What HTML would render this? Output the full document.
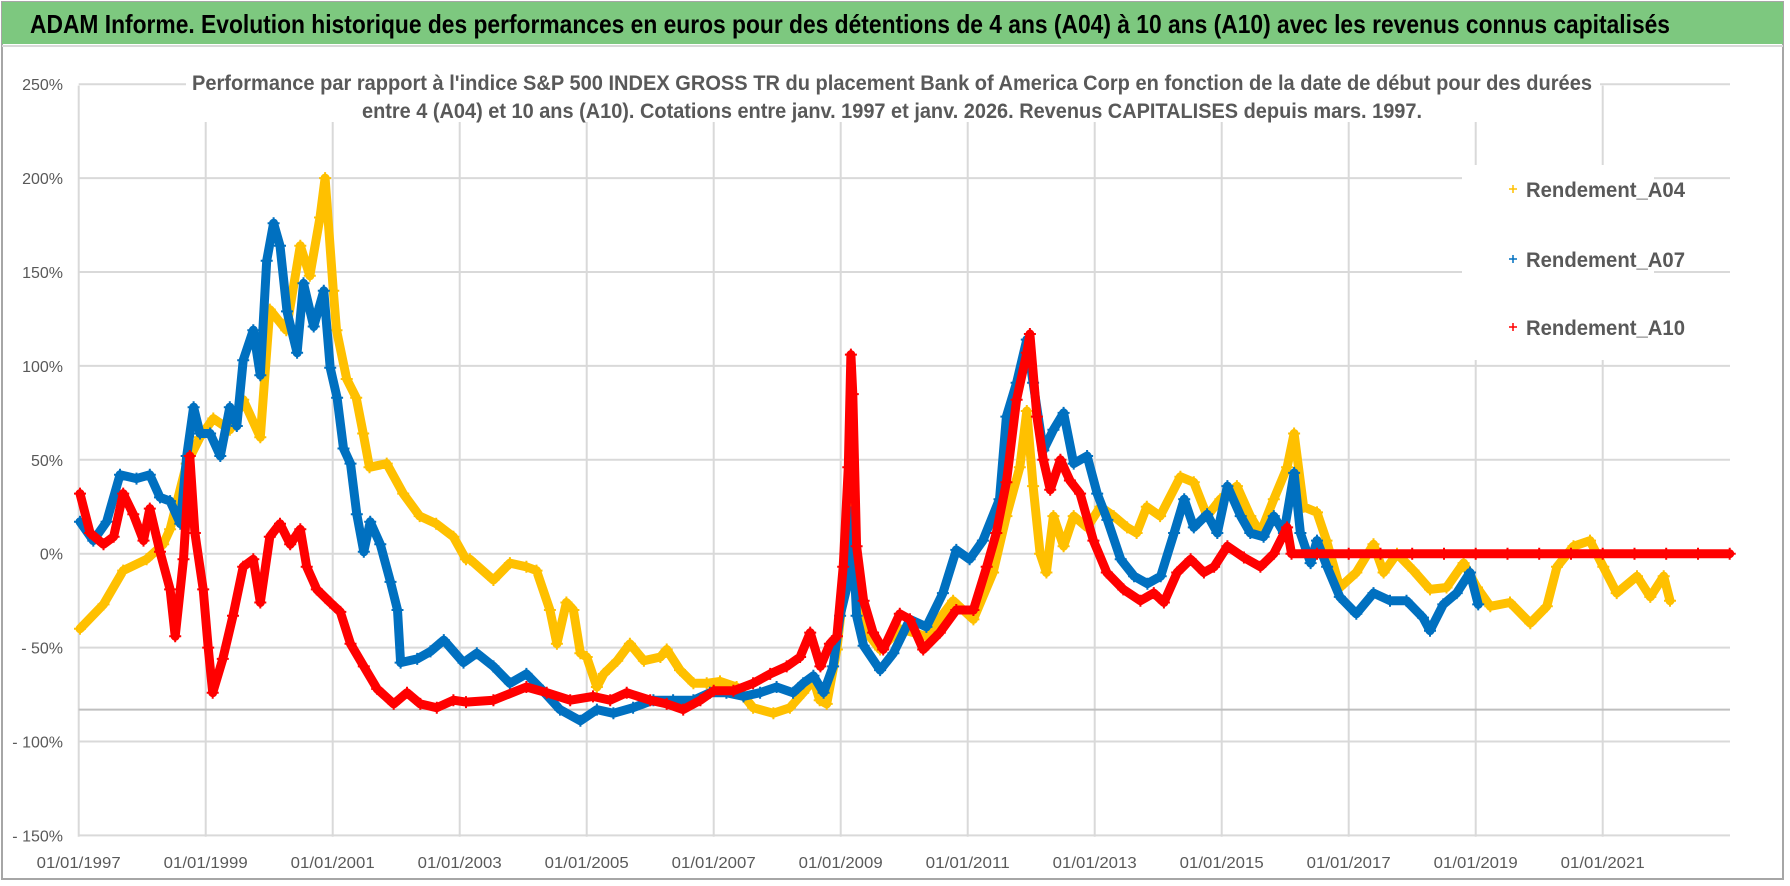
<!DOCTYPE html>
<html><head><meta charset="utf-8"><style>
html,body{margin:0;padding:0;background:#fff;}
svg{display:block;font-family:"Liberation Sans",sans-serif;}
</style></head><body>
<svg id="chart" width="1790" height="886" viewBox="0 0 1790 886" xmlns="http://www.w3.org/2000/svg">
<rect x="0" y="0" width="1790" height="886" fill="#fff"/>
<rect x="2" y="2" width="1781" height="877" fill="none" stroke="#a6a6a6" stroke-width="2"/>
<rect x="2" y="2" width="1781" height="42" fill="#7dc87f"/>
<line x1="2" y1="46" x2="1783" y2="46" stroke="#d9d9d9" stroke-width="2"/>
<text x="30" y="33" font-size="26" font-weight="bold" fill="#000" textLength="1640" lengthAdjust="spacingAndGlyphs">ADAM Informe. Evolution historique des performances en euros pour des détentions de 4 ans (A04) à 10 ans (A10) avec les revenus connus capitalisés</text>
<g id="grid"></g>
<g id="series"></g>
<rect x="186" y="64" width="1414" height="58" fill="#fff"/>
<text x="192" y="90" font-size="21" font-weight="bold" fill="#595959" textLength="1400" lengthAdjust="spacingAndGlyphs">Performance par rapport à l'indice S&amp;P 500 INDEX GROSS TR  du placement Bank of America Corp en fonction de la date de début pour des durées</text>
<text x="362" y="118" font-size="21" font-weight="bold" fill="#595959" textLength="1060" lengthAdjust="spacingAndGlyphs">entre 4 (A04) et 10 ans (A10). Cotations entre janv. 1997 et janv. 2026. Revenus CAPITALISES depuis mars. 1997.</text>
<g>
<rect x="1462" y="165" width="192" height="195" fill="#fff"/>
<g><path d="M1509 189h8M1513 185v8" stroke="#ffc000" stroke-width="1.5"/><text x="1526" y="197" font-size="21" font-weight="bold" fill="#595959" textLength="159" lengthAdjust="spacingAndGlyphs">Rendement_A04</text></g>
<g><path d="M1509 259h8M1513 255v8" stroke="#0070c0" stroke-width="1.5"/><text x="1526" y="267" font-size="21" font-weight="bold" fill="#595959" textLength="159" lengthAdjust="spacingAndGlyphs">Rendement_A07</text></g>
<g><path d="M1509 327h8M1513 323v8" stroke="#ff0000" stroke-width="1.5"/><text x="1526" y="335" font-size="21" font-weight="bold" fill="#595959" textLength="159" lengthAdjust="spacingAndGlyphs">Rendement_A10</text></g>
</g>
<g id="axes"></g>
</svg>
<script>
const yTicks = [250,200,150,100,50,0,-50,-100,-150];
const yTickLabels = ["250%","200%","150%","100%","50%","0%","- 50%","- 100%","- 150%"];
const xTicks = [1997,1999,2001,2003,2005,2007,2009,2011,2013,2015,2017,2019,2021];
const xTickLabels = ["01/01/1997","01/01/1999","01/01/2001","01/01/2003","01/01/2005","01/01/2007","01/01/2009","01/01/2011","01/01/2013","01/01/2015","01/01/2017","01/01/2019","01/01/2021"];
const refLine = -83;

const a04Years = [1997.02,1997.39,1997.7,1998.07,1998.33,1998.44,1998.7,1998.91,1999.12,1999.38,1999.59,1999.86,2000.01,2000.27,2000.49,2000.64,2000.8,2000.88,2001.01,2001.06,2001.22,2001.37,2001.48,2001.58,2001.85,2002.11,2002.37,2002.63,2002.9,2003.1,2003.16,2003.53,2003.79,2004.05,2004.21,2004.42,2004.53,2004.68,2004.79,2004.9,2005.0,2005.16,2005.27,2005.48,2005.68,2005.9,2006.16,2006.26,2006.47,2006.68,2006.89,2007.1,2007.36,2007.62,2007.94,2008.2,2008.41,2008.57,2008.67,2008.78,2008.94,2009.04,2009.17,2009.25,2009.41,2009.62,2009.93,2010.35,2010.77,2011.09,2011.4,2011.61,2011.82,2011.93,2012.03,2012.14,2012.24,2012.35,2012.51,2012.67,2012.88,2013.09,2013.3,2013.51,2013.66,2013.82,2014.03,2014.35,2014.56,2014.77,2014.98,2015.24,2015.45,2015.61,2015.82,2016.03,2016.14,2016.29,2016.5,2016.65,2016.86,2017.12,2017.39,2017.55,2017.76,2018.02,2018.28,2018.54,2018.81,2019.02,2019.23,2019.54,2019.86,2020.12,2020.28,2020.54,2020.8,2021.01,2021.22,2021.54,2021.75,2021.96,2022.06];
const a04Values = [-40,-27,-9,-3,5,13,48,62,72,66,82,62,130,119,164,148,179,200,140,119,93,83,64,46,48,32,20,16,9,-3,-3,-14,-5,-7,-9,-30,-48,-26,-30,-53,-55,-71,-64,-57,-48,-57,-55,-51,-62,-69,-69,-68,-71,-82,-85,-82,-74,-67,-78,-80,-51,-21,46,-16,-42,-51,-40,-44,-25,-35,-10,20,46,76,36,0,-10,20,4,20,14,25,20,14,11,25,20,41,38,20,29,36,20,11,29,46,64,25,22,7,-18,-10,5,-10,0,-9,-19,-18,-5,-18,-28,-26,-37,-28,-7,4,7,-7,-21,-12,-23,-12,-25];

const a07Years = [1997.02,1997.23,1997.44,1997.65,1997.91,1998.12,1998.28,1998.44,1998.6,1998.7,1998.81,1998.91,1999.07,1999.23,1999.38,1999.49,1999.59,1999.75,1999.86,1999.96,2000.07,2000.17,2000.28,2000.44,2000.54,2000.7,2000.86,2000.96,2001.07,2001.17,2001.28,2001.38,2001.49,2001.59,2001.75,2001.91,2002.02,2002.07,2002.33,2002.54,2002.75,2003.06,2003.27,2003.53,2003.79,2004.05,2004.31,2004.58,2004.9,2005.16,2005.42,2005.73,2006.05,2006.36,2006.68,2006.94,2007.2,2007.47,2007.73,2007.99,2008.25,2008.41,2008.57,2008.73,2008.88,2008.99,2009.09,2009.17,2009.25,2009.36,2009.62,2009.83,2010.09,2010.35,2010.61,2010.82,2011.03,2011.24,2011.5,2011.61,2011.77,2011.93,2012.03,2012.19,2012.35,2012.51,2012.67,2012.88,2013.04,2013.2,2013.41,2013.62,2013.83,2014.04,2014.25,2014.41,2014.56,2014.77,2014.93,2015.09,2015.3,2015.45,2015.66,2015.82,2015.98,2016.14,2016.24,2016.4,2016.5,2016.66,2016.86,2017.12,2017.39,2017.65,2017.91,2018.17,2018.28,2018.49,2018.7,2018.91,2019.04];
const a07Values = [17,7,17,42,40,42,30,28,16,52,78,64,64,52,78,68,103,119,95,156,176,164,129,107,144,121,140,99,83,56,48,21,1,17,5,-15,-30,-58,-56,-52,-46,-58,-53,-60,-69,-64,-73,-83,-89,-83,-85,-82,-78,-78,-78,-74,-74,-76,-74,-71,-74,-69,-65,-74,-60,-33,-19,22,-33,-49,-62,-53,-35,-39,-21,2,-3,7,29,73,91,114,91,55,66,75,48,52,32,18,-3,-12,-16,-12,11,29,14,21,11,36,20,11,9,20,11,43,11,-5,7,-7,-23,-32,-21,-25,-25,-34,-41,-27,-21,-10,-27];

const a10Years = [1997.02,1997.18,1997.39,1997.55,1997.7,1997.86,1998.02,1998.12,1998.28,1998.44,1998.52,1998.65,1998.75,1998.83,1998.96,1999.04,1999.11,1999.27,1999.43,1999.59,1999.75,1999.86,2000.01,2000.17,2000.33,2000.49,2000.59,2000.75,2000.96,2001.12,2001.28,2001.49,2001.7,2001.96,2002.17,2002.38,2002.64,2002.9,2003.1,2003.53,2004.05,2004.37,2004.74,2005.1,2005.37,2005.63,2006.0,2006.26,2006.52,2006.79,2007.0,2007.31,2007.62,2007.89,2008.15,2008.36,2008.52,2008.68,2008.83,2008.94,2009.04,2009.12,2009.16,2009.19,2009.25,2009.36,2009.51,2009.67,2009.93,2010.09,2010.3,2010.56,2010.82,2011.09,2011.3,2011.45,2011.61,2011.77,2011.93,2011.98,2012.09,2012.19,2012.3,2012.46,2012.61,2012.77,2012.98,2013.19,2013.45,2013.72,2013.93,2014.09,2014.3,2014.51,2014.72,2014.88,2015.09,2015.35,2015.61,2015.82,2016.03,2016.1,2016.5,2017.0,2017.5,2018.0,2018.5,2019.0,2019.5,2020.0,2020.5,2021.0,2021.5,2022.0,2022.5,2023.0];
const a10Values = [32,11,5,9,32,21,7,24,1,-19,-44,-3,52,11,-19,-50,-74,-56,-33,-7,-3,-26,9,16,5,13,-7,-19,-26,-31,-48,-60,-72,-80,-74,-80,-82,-78,-79,-78,-71,-74,-78,-76,-78,-74,-78,-80,-83,-78,-73,-73,-69,-64,-60,-55,-42,-60,-48,-44,-7,46,106,85,4,-25,-42,-51,-32,-35,-51,-42,-30,-30,-7,11,38,82,107,117,73,50,34,50,39,32,7,-10,-19,-25,-21,-26,-10,-3,-10,-7,4,-2,-7,0,14,0,0,0,0,0,0,0,0,0,0,0,0,0,0,0];

const X0 = 78.7, PXY = 63.5, Y0 = 553.7, PXV = 1.878, XR = 1730, YT = 85.6, YB = 836.8;
function xs(yr){ return X0 + (yr - 1997) * PXY; }
function ys(v){ return Y0 - v * PXV; }
const NS = "http://www.w3.org/2000/svg";
function mk(tag, attrs, parent){ const e = document.createElementNS(NS, tag); for (const k in attrs) e.setAttribute(k, attrs[k]); parent.appendChild(e); return e; }

const grid = document.getElementById('grid');
yTicks.forEach(v => {
  const l = mk('line', {x1: X0, x2: XR, y1: ys(v), y2: ys(v), stroke: '#d9d9d9', 'stroke-width': 2}, grid);
  
  
});
xTicks.slice(1).forEach(t => {
  const l = mk('line', {x1: xs(t), x2: xs(t), y1: YT, y2: YB, stroke: '#d9d9d9', 'stroke-width': 2}, grid);
  
  
});
const axL = mk('line', {x1: X0, x2: X0, y1: YT, y2: YB, stroke: '#d9d9d9', 'stroke-width': 2}, grid);


const rl = mk('line', {x1: X0, x2: XR, y1: ys(refLine), y2: ys(refLine), stroke: '#bfbfbf', 'stroke-width': 2}, grid);



const axes = document.getElementById('axes');
yTicks.forEach((v, i) => {
  const t = mk('text', {x: 63, y: ys(v) + 6, 'text-anchor': 'end', 'font-size': 16, fill: '#595959'}, axes);
  t.textContent = yTickLabels[i];
  
  
});
xTicks.forEach((yr, i) => {
  const t = mk('text', {x: xs(yr), y: 868, 'text-anchor': 'middle', 'font-size': 16, fill: '#595959', textLength: 84, lengthAdjust: 'spacingAndGlyphs'}, axes);
  t.textContent = xTickLabels[i];
  
  
});

const series = document.getElementById('series');
function drawSeries(years, vals, color, name){
  const g = mk('g', {}, series);
  
  
  const pts = years.map((yr, i) => xs(yr).toFixed(1) + ',' + ys(vals[i]).toFixed(1)).join(' ');
  const pl = mk('polyline', {points: pts, fill: 'none', stroke: color, 'stroke-width': 9, 'stroke-linejoin': 'round', 'stroke-linecap': 'round'}, g);
  
  
  let d = '';
  years.forEach((yr, i) => { const x = xs(yr), y = ys(vals[i]); d += `M${(x-6).toFixed(1)} ${y.toFixed(1)}h12M${x.toFixed(1)} ${(y-6).toFixed(1)}v12`; });
  const m = mk('path', {d: d, stroke: color, 'stroke-width': 2, fill: 'none'}, g);
  
  
}
drawSeries(a04Years, a04Values, '#ffc000', 'series-a04');
drawSeries(a07Years, a07Values, '#0070c0', 'series-a07');
drawSeries(a10Years, a10Values, '#ff0000', 'series-a10');
</script>
</body></html>
